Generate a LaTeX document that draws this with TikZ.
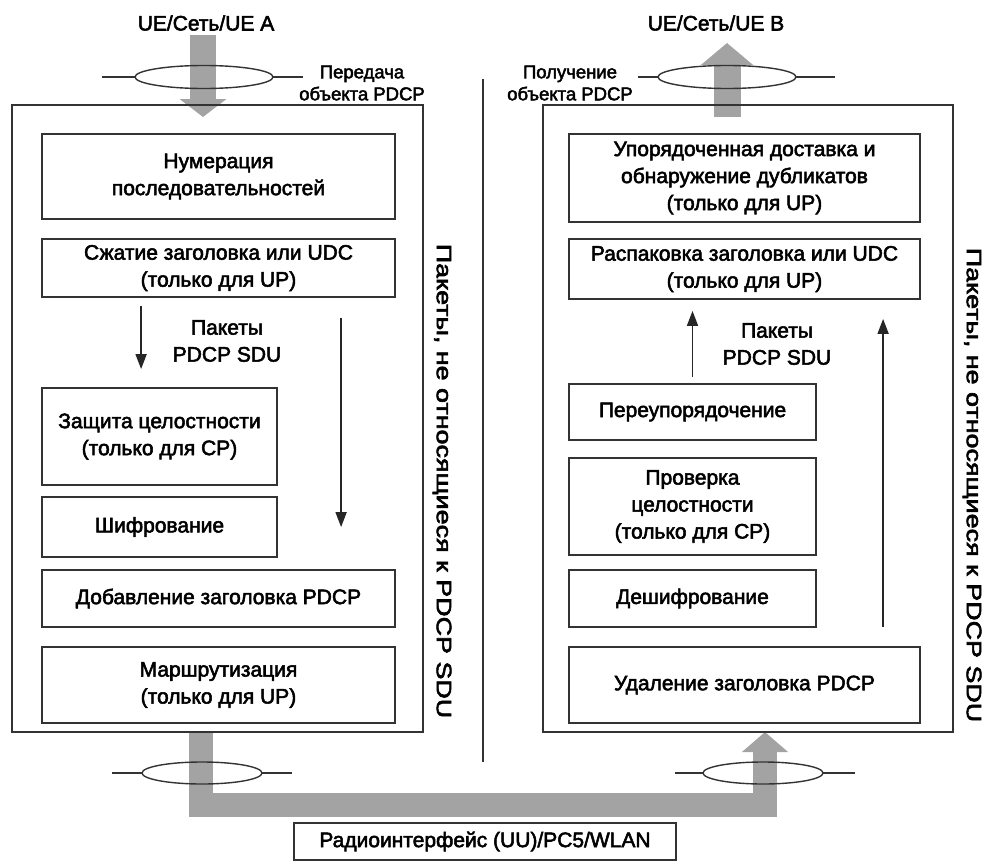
\documentclass[tikz,border=0pt]{standalone}
\usepackage{fontspec}
\setmainfont{Liberation Sans}
\newfontfamily\inkfont{Liberation Sans}[FakeBold=2.5]
\usepackage{graphicx}
\usetikzlibrary{arrows.meta,calc}
\definecolor{edge}{HTML}{333333}
\definecolor{pipe}{HTML}{A3A3A3}
\begin{document}
\begin{tikzpicture}[x=1pt,y=-1pt,
  every node/.style={font=\inkfont\fontsize{21}{27}\selectfont, align=center, inner sep=0pt, text=black},
  stage/.style={draw=edge, line width=1.8pt},
  frame/.style={draw=edge, line width=1.8pt},
  lbl/.style={font=\inkfont\fontsize{18.5}{22}\selectfont},
  flow/.style={draw=black!85, line width=1.7pt, -{Triangle[length=15pt,width=11pt]}},
  pipeflow/.style={draw=pipe, line join=miter},
  iface/.style={draw=edge, line width=1.4pt}]
\useasboundingbox (0,0) rectangle (986,862);

% ---- points where the data pipes start and end
\coordinate (srcA) at (203,35);
\coordinate (inA)  at (203,117);
\coordinate (outB) at (727,117);
\coordinate (dstB) at (727,43);
\coordinate (txL)  at (201,732);
\coordinate (rxR)  at (765,732);

% ---- thick grey data pipes
\draw[pipeflow, line width=26pt, -{Triangle[length=18pt,width=46pt]}] (srcA) -- (inA);
\draw[pipeflow, line width=27pt, -{Triangle[length=22pt,width=51pt]}] (outB) -- (dstB);
\draw[pipeflow, line width=24pt, -{Triangle[length=20pt,width=45pt]}]
  (txL) -- (201,804.5) -- (765,804.5) -- (rxR);

% ---- transmitting and receiving entities
\node[frame, minimum width=411pt, minimum height=627pt] (Lout) at (217.5,418.5) {};
\node[frame, minimum width=410pt, minimum height=627pt] (Rout) at (748,418.5) {};

% ---- divider between the two sides
\coordinate (divtop) at (483,79);
\coordinate (divbot) at (483,762);
\draw[draw=edge, line width=1.4pt] (divtop) -- (divbot);

% ---- transmit side
\node[stage, minimum width=353pt, minimum height=85pt] (L1) at (218.5,176.5) {Нумерация\\последовательностей};
\node[stage, minimum width=353pt, minimum height=58pt] (L2) at (218.5,268) {Сжатие заголовка или UDC\\(только для UP)};
\node[stage, minimum width=235pt, minimum height=97pt] (L3) at (159.5,436.5) {Защита целостности\\(только для CP)};
\node[stage, minimum width=235pt, minimum height=60pt] (L4) at (159.5,527) {Шифрование};
\node[stage, minimum width=353pt, minimum height=57pt] (L5) at (218.5,598.5) {Добавление заголовка PDCP};
\node[stage, minimum width=353pt, minimum height=76pt] (L6) at (218.5,685) {Маршрутизация\\(только для UP)};

\node (Lsdu) at (227,341) {Пакеты\\PDCP SDU};
\draw[flow] ($(L2.south west)+(100,8)$) -- ($(L3.north west)+(100,-18)$);
\draw[flow] ($(L2.south west)+(300,20)$) -- ($(L5.north west)+(300,-42)$);

\node[rotate=-90] (Lside) at (442,481) {\scalebox{1.28}[1]{Пакеты, не относящиеся к PDCP SDU}};

% ---- receive side
\node[stage, minimum width=351pt, minimum height=88pt] (R1) at (744.5,178) {Упорядоченная доставка и\\обнаружение дубликатов\\(только для UP)};
\node[stage, minimum width=351pt, minimum height=60pt] (R2) at (744.5,269) {Распаковка заголовка или UDC\\(только для UP)};
\node[stage, minimum width=247pt, minimum height=56pt] (R3) at (692.5,412) {Переупорядочение};
\node[stage, minimum width=247pt, minimum height=97pt] (R4) at (692.5,506.5) {Проверка\\целостности\\(только для CP)};
\node[stage, minimum width=247pt, minimum height=57pt] (R5) at (692.5,598.5) {Дешифрование};
\node[stage, minimum width=351pt, minimum height=76pt] (R6) at (744.5,685) {Удаление заголовка PDCP};

\node (Rsdu) at (777,344) {Пакеты\\PDCP SDU};
\draw[flow] ($(R3.north)+(0,-6)$) -- ($(R3.north |- R2.south)+(0,11)$);
\draw[flow] ($(R6.north west)+(315,-19)$) -- ($(R2.south west)+(315,19)$);

\node[rotate=-90] (Rside) at (972,485) {\scalebox{1.28}[1]{Пакеты, не относящиеся к PDCP SDU}};

% ---- endpoints and service access points
\node (ueA) at (206,23) {UE/Сеть/UE A};
\node (ueB) at (716,23) {UE/Сеть/UE B};
\node[lbl] (txlbl) at (362,83) {Передача\\объекта PDCP};
\node[lbl] (rxlbl) at (570,83) {Получение\\объекта PDCP};

\draw[iface] (102,77) -- (135,77) (273,77) -- (303,77);
\draw[iface] (204,77) ellipse [x radius=69pt, y radius=11.5pt];
\draw[iface] (638,77) -- (658,77) (796,77) -- (835,77);
\draw[iface] (727,77) ellipse [x radius=69pt, y radius=11.5pt];
\draw[iface] (112,773) -- (142,773) (262,773) -- (292,773);
\draw[iface] (202,773) ellipse [x radius=60pt, y radius=11pt];
\draw[iface] (675,773) -- (703,773) (823,773) -- (855,773);
\draw[iface] (763,773) ellipse [x radius=60pt, y radius=11pt];

% ---- radio link
\node[stage, minimum width=382pt, minimum height=37pt, fill=white] (radio) at (485,841.5) {Радиоинтерфейс (UU)/PC5/WLAN};
\end{tikzpicture}
\end{document}
